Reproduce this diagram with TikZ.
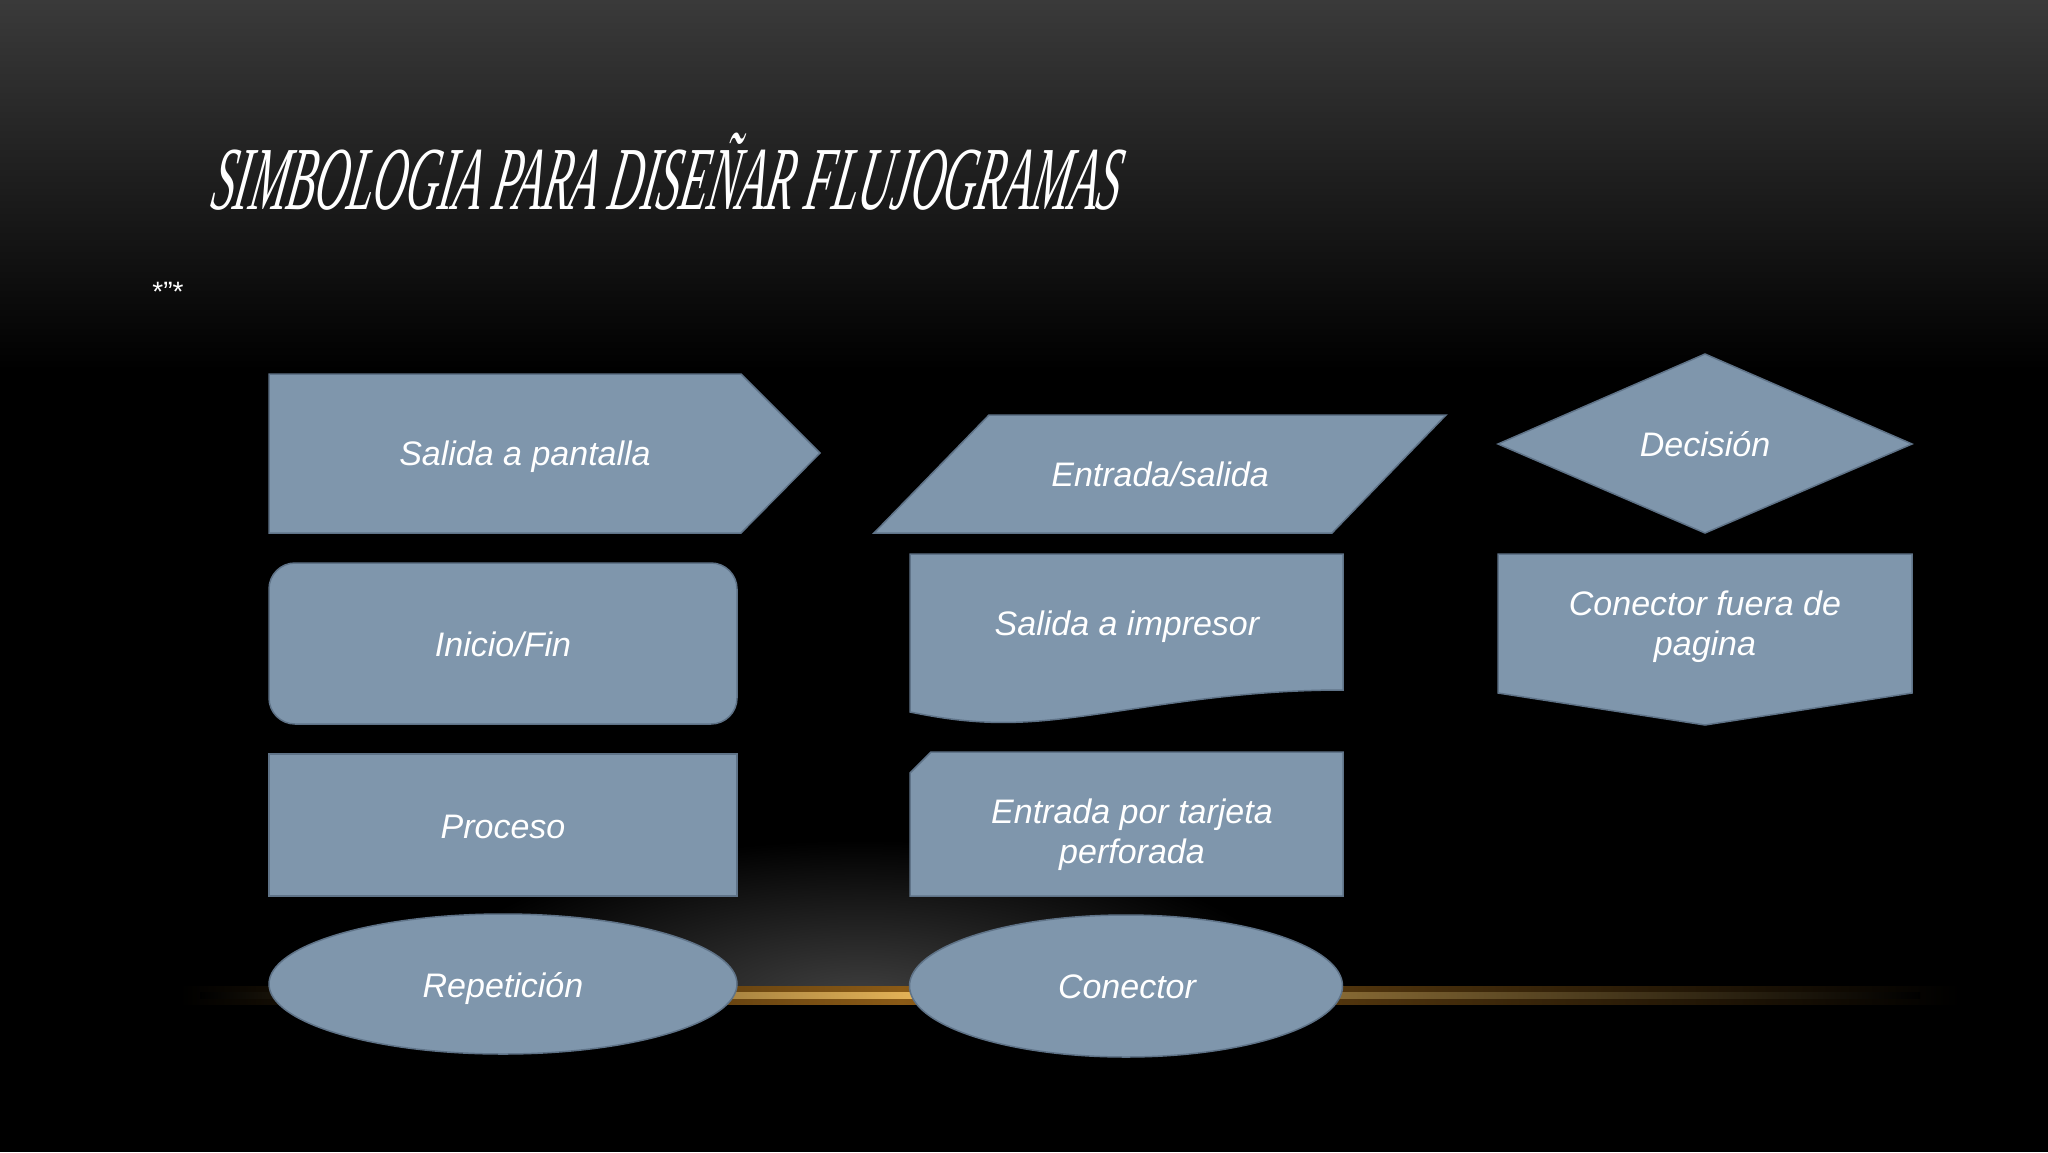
\documentclass[tikz,border=0pt]{standalone}
\usepackage{fontspec}
\usepackage{graphicx}
\setmainfont{Liberation Sans}
\newfontfamily\titlefont{Liberation Serif}
\usetikzlibrary{shapes.geometric}
\definecolor{shapefill}{HTML}{7F96AC}
\definecolor{shapeline}{HTML}{5F7388}
\definecolor{topgray}{HTML}{3A3A3A}
\definecolor{gold}{HTML}{E6B458}
\definecolor{amber}{HTML}{8A5A16}
\tikzset{
  symbolshape/.style={fill=shapefill, draw=shapeline, line width=1.5pt},
  lbl/.style={text=white, font=\fontsize{34}{40}\selectfont\itshape, align=center, inner sep=0pt},
}
\begin{document}
\begin{tikzpicture}[x=1pt,y=-1pt]
\useasboundingbox (0,0) rectangle (2048,1152);
% background
\fill[black] (0,0) rectangle (2048,1152);
\shade[top color=topgray, bottom color=black] (0,0) rectangle (2048,370);
% spotlight glow above the line
\begin{scope}
  \clip (0,800) rectangle (2048,996);
  \shade[inner color=black!75!white, outer color=black] (860,1000) ellipse (440 and 160);
\end{scope}
% golden line
\shade[left color=black, right color=amber] (180,986) rectangle (900,1004);
\shade[left color=amber, right color=black] (900,986) rectangle (1960,1004);
\shade[left color=black, right color=gold] (200,992) rectangle (920,998);
\shade[left color=gold, right color=black] (920,992) rectangle (1920,998);

% title
\begin{scope}[shift={(209,209)}, xslant=0.18]
\node[text=white, inner sep=0pt, anchor=base west, transform shape] (title) at (0,0)
  {\scalebox{1.135}[2.25]{\titlefont\fontsize{40}{44}\selectfont\itshape SIMBOLOGIA PARA DISEÑAR FLUJOGRAMAS}};
\end{scope}
\node[text=white, inner sep=0pt, font=\fontsize{28}{32}\selectfont] (marks) at (168,292) {*"*};

% column 1
\draw[symbolshape] (269,374) -- (741,374) -- (820,453) -- (741,533) -- (269,533) -- cycle;
\node[lbl] (pantalla) at (525,457) {Salida a pantalla};
\draw[symbolshape, rounded corners=26pt] (269,563) rectangle (737,724);
\node[lbl] (inicio) at (503,644) {Inicio/Fin};
\draw[symbolshape] (269,754) rectangle (737,896);
\node[lbl] (proceso) at (503,827) {Proceso};
\draw[symbolshape] (503,984) ellipse (234 and 70);
\node[lbl] (repeticion) at (503,988) {Repetición};

% column 2
\draw[symbolshape] (989,415) -- (1446,415) -- (1332,533) -- (874,533) -- cycle;
\node[lbl] (entrada) at (1160,474) {Entrada/salida};
\draw[symbolshape] (910,554) -- (1343,554) -- (1343,690)
  .. controls (1220,690) and (1130,712) .. (1050,720)
  .. controls (990,726) and (950,720) .. (910,712) -- cycle;
\node[lbl] (impresor) at (1127,627) {Salida a impresor};
\draw[symbolshape] (910,773) -- (931,752) -- (1343,752) -- (1343,896) -- (910,896) -- cycle;
\node[lbl] (tarjeta) at (1132,835) {Entrada por tarjeta\\perforada};
\draw[symbolshape] (1126,986) ellipse (216.5 and 71);
\node[lbl] (conector) at (1127,987) {Conector};

% column 3
\draw[symbolshape] (1498,444) -- (1705,354) -- (1912,444) -- (1705,533) -- cycle;
\node[lbl] (decision) at (1705,444) {Decisión};
\draw[symbolshape] (1498,554) -- (1912,554) -- (1912,693) -- (1705,725) -- (1498,693) -- cycle;
\node[lbl] (fuera) at (1705,627) {Conector fuera de\\pagina};
\end{tikzpicture}
\end{document}
